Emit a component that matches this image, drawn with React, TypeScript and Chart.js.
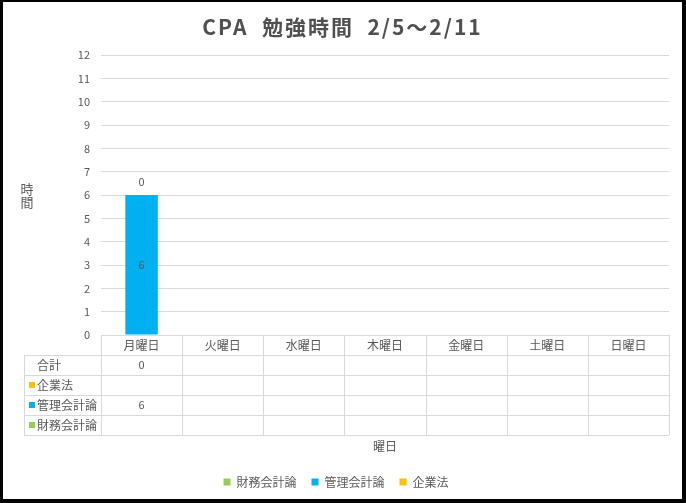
import React, { useEffect, useRef } from 'react';
import { Chart, registerables, ChartConfiguration, Plugin } from 'chart.js';

Chart.register(...registerables);

// Data
const days = ['月曜日', '火曜日', '水曜日', '木曜日', '金曜日', '土曜日', '日曜日'];
const zaimuKaikei: (number | null)[] = [null, null, null, null, null, null, null];
const kanriKaikei: (number | null)[] = [6, null, null, null, null, null, null];
const kigyoho: (number | null)[] = [null, null, null, null, null, null, null];
const goukei: (number | null)[] = [0, null, null, null, null, null, null];
const yTicksMax = 12;

const titleText = 'CPA  勉強時間  2/5～2/11';
const TEXT = '#595959';
const GRID = '#D9D9D9';
const FONT = '"Noto Sans CJK JP", "Noto Sans", sans-serif';
const TOTAL_LABEL = '合計';

// Title drawn by hand so letter spacing can match
const titlePlugin: Plugin<'bar'> = {
  id: 'sheetTitle',
  afterDraw(chart) {
    const ctx = chart.ctx;
    ctx.save();
    ctx.font = `bold 21px ${FONT}`;
    (ctx as any).letterSpacing = '2px';
    ctx.fillStyle = '#505050';
    ctx.textAlign = 'center';
    ctx.textBaseline = 'middle';
    ctx.fillText(titleText, chart.width / 2, 25);
    ctx.restore();
  }
};

// Upright, stacked y axis title
const yTitlePlugin: Plugin<'bar'> = {
  id: 'yTitle',
  afterDraw(chart) {
    const { ctx, chartArea } = chart;
    const yScale = chart.scales.y;
    const mid = (chartArea.top + chartArea.bottom) / 2;
    ctx.save();
    ctx.font = `13px ${FONT}`;
    ctx.fillStyle = TEXT;
    ctx.textAlign = 'center';
    ctx.textBaseline = 'middle';
    ctx.fillText('時', yScale.left + 24, mid - 6);
    ctx.fillText('間', yScale.left + 24, mid + 7);
    ctx.restore();
  }
};

// Value labels on the bars
const barLabelPlugin: Plugin<'bar'> = {
  id: 'barLabels',
  afterDatasetsDraw(chart) {
    const ctx = chart.ctx;
    ctx.save();
    ctx.font = `11px ${FONT}`;
    ctx.fillStyle = TEXT;
    ctx.textAlign = 'center';
    ctx.textBaseline = 'middle';
    chart.data.datasets.forEach((ds, di) => {
      const meta = chart.getDatasetMeta(di);
      meta.data.forEach((el: any, i) => {
        const v = ds.data[i] as number | null;
        if (v == null) return;
        const { x, y, base } = el.getProps(['x', 'y', 'base'], true);
        if (ds.label === TOTAL_LABEL) {
          ctx.fillText(String(v), x, y - 13);
        } else {
          ctx.fillText(String(v), x, (y + base) / 2);
        }
      });
    });
    ctx.restore();
  }
};

// Data table under the plot
const tablePlugin: Plugin<'bar'> = {
  id: 'dataTable',
  afterDraw(chart) {
    const { ctx, chartArea } = chart;
    const xScale = chart.scales.x;
    const n = days.length;
    const colW = (chartArea.right - chartArea.left) / n;
    const rowH = 20;
    const top = chartArea.bottom;
    const tableLeft = chartArea.left - 77;
    const rows = chart.data.datasets.slice().reverse();
    const bottom = top + (rows.length + 1) * rowH;
    const px = (v: number) => Math.round(v) + 0.5;

    ctx.save();
    ctx.strokeStyle = GRID;
    ctx.lineWidth = 1;
    ctx.beginPath();
    // header row top
    ctx.moveTo(chartArea.left, px(top));
    ctx.lineTo(chartArea.right, px(top));
    // row lines
    for (let r = 1; r <= rows.length + 1; r++) {
      const y = px(top + r * rowH);
      ctx.moveTo(tableLeft, y);
      ctx.lineTo(chartArea.right, y);
    }
    // column lines
    for (let i = 0; i <= n; i++) {
      const x = px(xScale.getPixelForValue(0) - colW / 2 + i * colW);
      ctx.moveTo(x, top);
      ctx.lineTo(x, bottom);
    }
    ctx.moveTo(px(tableLeft), top + rowH);
    ctx.lineTo(px(tableLeft), bottom);
    ctx.stroke();

    ctx.textBaseline = 'middle';
    rows.forEach((ds, r) => {
      const rowCy = top + (r + 1) * rowH + rowH / 2;
      // legend key
      if (ds.label !== TOTAL_LABEL) {
        ctx.fillStyle = ds.backgroundColor as string;
        ctx.fillRect(tableLeft + 5, Math.round(rowCy - 3), 6, 6);
      }
      ctx.fillStyle = TEXT;
      ctx.font = `12px ${FONT}`;
      ctx.textAlign = 'left';
      ctx.fillText(ds.label as string, tableLeft + 13, rowCy);
      ctx.textAlign = 'center';
      ctx.font = `11px ${FONT}`;
      ds.data.forEach((v, i) => {
        if (v == null) return;
        ctx.fillText(String(v), xScale.getPixelForValue(i), rowCy);
      });
    });
    ctx.restore();
  }
};

const App: React.FC = () => {
  const canvasRef = useRef<HTMLCanvasElement>(null);
  const chartInstance = useRef<Chart<'bar'> | null>(null);

  useEffect(() => {
    if (!canvasRef.current) return;
    if (chartInstance.current) {
      chartInstance.current.destroy();
    }

    const config: ChartConfiguration<'bar'> = {
      type: 'bar',
      data: {
        labels: days,
        datasets: [
          { label: '財務会計論', data: zaimuKaikei, backgroundColor: '#92D050', borderWidth: 0 },
          { label: '管理会計論', data: kanriKaikei, backgroundColor: '#00B0F0', borderWidth: 0 },
          { label: '企業法', data: kigyoho, backgroundColor: '#FFC000', borderWidth: 0 },
          { label: TOTAL_LABEL, data: goukei, backgroundColor: 'rgba(0,0,0,0)', borderWidth: 0 }
        ]
      },
      options: {
        animation: false,
        responsive: true,
        maintainAspectRatio: false,
        datasets: {
          bar: {
            barPercentage: 0.4,
            categoryPercentage: 1
          }
        },
        layout: {
          padding: { top: 53, right: 13, bottom: 1, left: 0 }
        },
        plugins: {
          title: { display: false },
          tooltip: { enabled: false },
          legend: {
            position: 'bottom',
            labels: {
              boxWidth: 7,
              boxHeight: 7,
              padding: 15,
              color: TEXT,
              font: { family: FONT, size: 12 },
              filter: (item) => item.text !== TOTAL_LABEL
            }
          }
        },
        scales: {
          x: {
            stacked: true,
            grid: { display: false, drawTicks: false },
            border: { display: false },
            ticks: {
              color: TEXT,
              font: { family: FONT, size: 12 },
              padding: 3,
              maxRotation: 0,
              autoSkip: false
            },
            title: {
              display: true,
              text: '曜日',
              color: TEXT,
              font: { family: FONT, size: 12 },
              padding: { top: 0, bottom: 7 }
            },
            afterFit: (scale) => {
              scale.height = 126;
            }
          },
          y: {
            stacked: true,
            min: 0,
            max: yTicksMax,
            grid: { color: GRID, drawTicks: false },
            border: { display: false },
            ticks: {
              stepSize: 1,
              color: TEXT,
              font: { family: FONT, size: 11 },
              padding: 11
            },
            afterFit: (scale) => {
              scale.width = 98;
            }
          }
        }
      },
      plugins: [titlePlugin, yTitlePlugin, barLabelPlugin, tablePlugin]
    };

    chartInstance.current = new Chart(canvasRef.current, config);

    return () => {
      if (chartInstance.current) {
        chartInstance.current.destroy();
        chartInstance.current = null;
      }
    };
  }, []);

  return (
    <div
      style={{
        position: 'fixed',
        left: 0,
        top: 0,
        width: 686,
        height: 503,
        boxSizing: 'border-box',
        borderStyle: 'solid',
        borderColor: '#000',
        borderWidth: '2px 4px 4px 3px',
        background: '#fff'
      }}
    >
      <div style={{ position: 'relative', width: 679, height: 497 }}>
        <canvas ref={canvasRef} />
      </div>
    </div>
  );
};

export default App;
